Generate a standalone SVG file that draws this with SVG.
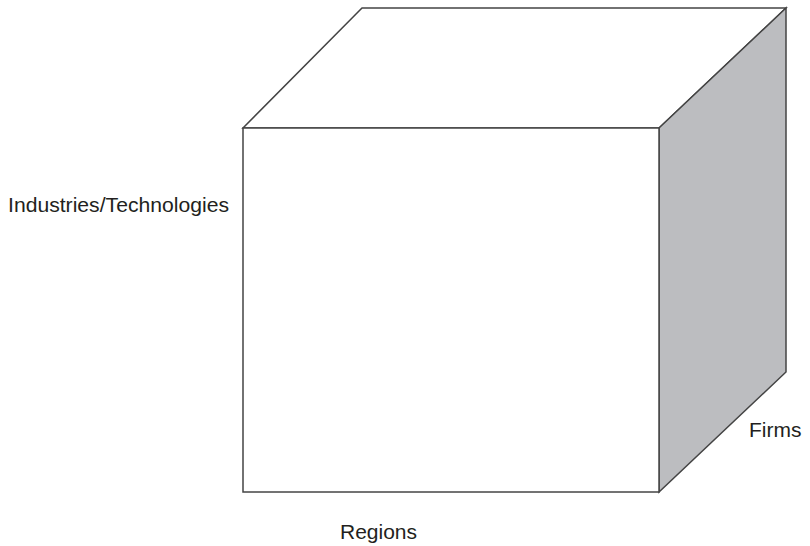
<svg xmlns="http://www.w3.org/2000/svg" width="810" height="546" viewBox="0 0 810 546">
  <style>
    .edge { stroke: #444; stroke-width: 1.5; stroke-linejoin: miter; }
    .label { font-family: "Liberation Sans", Arial, sans-serif; font-size: 21px; fill: #231f20; }
  </style>
  <rect width="810" height="546" fill="#fff"/>
  <g id="cube">
    <!-- top face -->
    <polygon id="top-face" class="edge" points="243,128 362,8 786,8 659,128" fill="#fff"/>
    <!-- right side face -->
    <polygon id="side-face" class="edge" points="659,128 786,8 786,372 659,492" fill="#bcbdc0"/>
    <!-- front face -->
    <rect id="front-face" class="edge" x="243" y="128" width="416" height="364" fill="#fff"/>
  </g>
  <g id="labels">
    <text class="label" x="8" y="212" textLength="221" lengthAdjust="spacingAndGlyphs">Industries/Technologies</text>
    <text class="label" x="749" y="437">Firms</text>
    <text class="label" x="340" y="539">Regions</text>
  </g>
</svg>
